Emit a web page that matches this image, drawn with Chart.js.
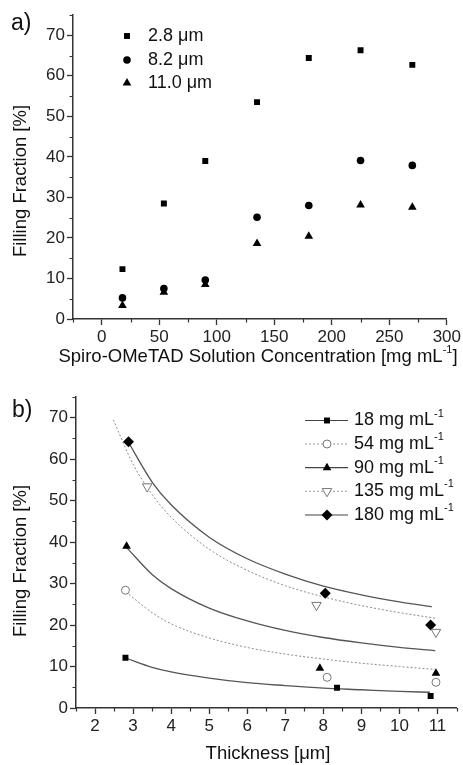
<!DOCTYPE html>
<html>
<head>
<meta charset="utf-8">
<script src="https://cdn.jsdelivr.net/npm/chart.js@4.4.0/dist/chart.umd.min.js"></script>
<style>
  html, body { margin: 0; padding: 0; background: #fff; }
  #wrap { position: relative; width: 463px; height: 765px; }
  #topChart { position: absolute; left: 0; top: 0; }
  #bottomChart { position: absolute; left: 0; top: 375px; }
</style>
</head>
<body>
<div id="wrap">
  <canvas id="topChart" width="463" height="375"></canvas>
  <canvas id="bottomChart" width="463" height="390"></canvas>
</div>
<script>
// panel a) filling fraction vs solution concentration
const concentrations = [18, 54, 90, 135, 180, 225, 270];
const fill28 = [12.3, 28.5, 39.0, 53.5, 64.4, 66.3, 62.7];
const fill82 = [5.2, 7.5, 9.6, 25.1, 28.0, 39.1, 37.9];
const fill110 = [3.3, 6.6, 8.5, 18.6, 20.4, 28.1, 27.6];
const labelsA = ["2.8 μm", "8.2 μm", "11.0 μm"];
const xTicksA = [0, 50, 100, 150, 200, 250, 300];
const xMinorA = [-25, 25, 75, 125, 175, 225, 275];
const yTicksA = [0, 10, 20, 30, 40, 50, 60, 70];
const yMinorA = [5, 15, 25, 35, 45, 55, 65, 75];

// panel b) filling fraction vs thickness (measured points)
const thick18 = [2.8, 8.36, 10.82];
const ff18 = [12.1, 4.9, 2.9];
const thick54 = [2.8, 8.1, 10.96];
const ff54 = [28.4, 7.4, 6.2];
const thick90 = [2.83, 7.91, 10.96];
const ff90 = [39.0, 9.6, 8.4];
const thick135 = [3.37, 7.82, 10.96];
const ff135 = [53.4, 24.8, 18.3];
const thick180 = [2.88, 8.05, 10.82];
const ff180 = [64.2, 27.7, 20.0];

// fit curves
const fitX18 = [2.82, 3.5, 4, 5, 6, 7, 8, 9, 10, 10.8];
const fitY18 = [12, 9.8, 8.7, 7.2, 6.1, 5.4, 4.8, 4.4, 4.0, 3.8];
const fitX54 = [2.81, 3.5, 4, 5, 6, 7, 8, 9, 10, 10.94];
const fitY54 = [28, 23, 20.3, 16.9, 14.6, 13, 11.8, 10.8, 10, 9.3];
const fitX90 = [2.82, 3.5, 4, 5, 6, 7, 8, 9, 10, 10.94];
const fitY90 = [38.8, 32.2, 28.8, 24.1, 21, 18.7, 17, 15.7, 14.6, 13.8];
const fitX135 = [2.48, 3, 3.5, 4, 5, 6, 7, 8, 9, 10, 10.98];
const fitY135 = [69.5, 58.8, 51.5, 46, 38.3, 33.2, 29.5, 26.8, 24.7, 23, 21.6];
const fitX180 = [2.87, 3.5, 4, 5, 6, 7, 8, 9, 10, 10.85];
const fitY180 = [64.2, 54.5, 49, 41.2, 36, 32.3, 29.4, 27.3, 25.6, 24.4];

const labelsB = ["18", "54", "90", "135", "180"];
const xTicksB = [2, 3, 4, 5, 6, 7, 8, 9, 10, 11];
const xMinorB = [1.5, 2.5, 3.5, 4.5, 5.5, 6.5, 7.5, 8.5, 9.5, 10.5, 11.5];
const yTicksB = [0, 10, 20, 30, 40, 50, 60, 70];
const yMinorB = [5, 15, 25, 35, 45, 55, 65, 75];

const FONT = '"Liberation Sans", Arial, sans-serif';
const AXIS = "#333";

const toXY = (xs, ys) => xs.map((x, i) => ({ x: x, y: ys[i] }));

// draw text with optional superscript parts
function drawRich(ctx, parts, x, y, size, align) {
  const supSize = Math.round(size * 0.62);
  let total = 0;
  parts.forEach((p) => {
    ctx.font = (p.sup ? supSize : size) + "px " + FONT;
    p.w = ctx.measureText(p.t).width;
    total += p.w;
  });
  let cx = align === "center" ? x - total / 2 : x;
  ctx.textAlign = "left";
  ctx.textBaseline = "middle";
  parts.forEach((p) => {
    ctx.font = (p.sup ? supSize : size) + "px " + FONT;
    ctx.fillText(p.t, cx, p.sup ? y - size * 0.38 : y);
    cx += p.w;
  });
}

function drawMarker(ctx, style, x, y, r, fill, stroke) {
  ctx.save();
  ctx.beginPath();
  if (style === "rect") {
    const s = r * Math.SQRT1_2;
    ctx.rect(x - s, y - s, 2 * s, 2 * s);
  } else if (style === "circle") {
    ctx.arc(x, y, r, 0, Math.PI * 2);
  } else if (style === "triangle" || style === "triangleDown") {
    const d = style === "triangle" ? 1 : -1;
    ctx.moveTo(x, y - d * r);
    ctx.lineTo(x + r * 0.866, y + d * r / 2);
    ctx.lineTo(x - r * 0.866, y + d * r / 2);
    ctx.closePath();
  } else if (style === "rectRot") {
    ctx.moveTo(x, y - r);
    ctx.lineTo(x + r, y);
    ctx.lineTo(x, y + r);
    ctx.lineTo(x - r, y);
    ctx.closePath();
  }
  ctx.fillStyle = fill;
  ctx.fill();
  if (stroke) {
    ctx.strokeStyle = stroke;
    ctx.lineWidth = 1;
    ctx.stroke();
  }
  ctx.restore();
}

function minorTicks(chart, xs, ys) {
  const ctx = chart.ctx;
  const area = chart.chartArea;
  const sx = chart.scales.x;
  const sy = chart.scales.y;
  ctx.save();
  ctx.strokeStyle = AXIS;
  ctx.lineWidth = 1.2;
  ctx.beginPath();
  xs.forEach((v) => {
    const px = Math.round(sx.getPixelForValue(v)) + 0.5;
    ctx.moveTo(px, area.bottom);
    ctx.lineTo(px, area.bottom + 3.5);
  });
  ys.forEach((v) => {
    const py = Math.round(sy.getPixelForValue(v)) + 0.5;
    ctx.moveTo(area.left, py);
    ctx.lineTo(area.left - 3.5, py);
  });
  ctx.stroke();
  ctx.restore();
}

function axisOptions(ticks, min, max, size) {
  return {
    type: "linear",
    min: min,
    max: max,
    afterBuildTicks: (scale) => {
      scale.ticks = ticks.map((v) => ({ value: v }));
    },
    afterFit: size,
    border: { display: true, color: AXIS, width: 1.5 },
    grid: {
      drawOnChartArea: false,
      drawTicks: true,
      tickLength: 6,
      tickColor: AXIS,
      tickWidth: 1.3,
    },
    ticks: {
      font: { family: FONT, size: 17 },
      color: "#222",
      padding: 2,
    },
  };
}

// ---------- panel a ----------
const decorA = {
  id: "decorA",
  afterDraw(chart) {
    const ctx = chart.ctx;
    minorTicks(chart, xMinorA, yMinorA);
    ctx.save();
    ctx.fillStyle = "#111";
    // panel label
    ctx.font = "23px " + FONT;
    ctx.textAlign = "left";
    ctx.textBaseline = "middle";
    ctx.fillText("a)", 11, 24);
    // y title
    ctx.save();
    ctx.translate(21, 181);
    ctx.rotate(-Math.PI / 2);
    ctx.font = "18.5px " + FONT;
    ctx.textAlign = "center";
    ctx.fillText("Filling Fraction [%]", 0, 0);
    ctx.restore();
    // x title
    drawRich(ctx, [
      { t: "Spiro-OMeTAD Solution Concentration [mg mL" },
      { t: "-1", sup: true },
      { t: "]" },
    ], 258, 357, 18.5, "center");
    // legend
    const styles = ["rect", "circle", "triangle"];
    const radii = [4.2, 3.8, 5];
    const rows = [36, 60, 83];
    labelsA.forEach((lab, i) => {
      drawMarker(ctx, styles[i], 127, rows[i], radii[i], "#000");
      ctx.fillStyle = "#111";
      ctx.font = "18px " + FONT;
      ctx.textAlign = "left";
      ctx.textBaseline = "middle";
      ctx.fillText(lab, 148, rows[i]);
    });
    ctx.restore();
  },
};

new Chart(document.getElementById("topChart"), {
  type: "scatter",
  data: {
    datasets: [
      {
        label: labelsA[0],
        data: toXY(concentrations, fill28),
        pointStyle: "rect",
        pointRadius: 4.2,
        backgroundColor: "#000",
        borderWidth: 0,
      },
      {
        label: labelsA[1],
        data: toXY(concentrations, fill82),
        pointStyle: "circle",
        pointRadius: 3.8,
        backgroundColor: "#000",
        borderWidth: 0,
      },
      {
        label: labelsA[2],
        data: toXY(concentrations, fill110),
        pointStyle: "triangle",
        pointRadius: 5,
        backgroundColor: "#000",
        borderWidth: 0,
      },
    ],
  },
  options: {
    responsive: false,
    animation: false,
    layout: { padding: { left: 0, top: 15, right: 15, bottom: 0 } },
    plugins: { legend: { display: false }, tooltip: { enabled: false } },
    scales: {
      x: axisOptions(xTicksA, -25, 300, (s) => { s.height = 56; }),
      y: axisOptions(yTicksA, 0, 75, (s) => { s.width = 73; }),
    },
  },
  plugins: [decorA],
});

// ---------- panel b ----------
const decorB = {
  id: "decorB",
  afterDraw(chart) {
    const ctx = chart.ctx;
    minorTicks(chart, xMinorB, yMinorB);
    ctx.save();
    ctx.fillStyle = "#111";
    ctx.font = "23px " + FONT;
    ctx.textAlign = "left";
    ctx.textBaseline = "middle";
    ctx.fillText("b)", 12, 36);
    ctx.save();
    ctx.translate(21, 186);
    ctx.rotate(-Math.PI / 2);
    ctx.font = "18.5px " + FONT;
    ctx.textAlign = "center";
    ctx.fillText("Filling Fraction [%]", 0, 0);
    ctx.restore();
    ctx.fillStyle = "#111";
    ctx.font = "18.5px " + FONT;
    ctx.textAlign = "center";
    ctx.fillText("Thickness [μm]", 268, 379);
    // legend
    const styles = ["rect", "circle", "triangle", "triangleDown", "rectRot"];
    const radii = [4.2, 4, 5, 5.5, 5.5];
    const fills = ["#000", "#fff", "#000", "#fff", "#000"];
    const strokes = [null, "#777", null, "#777", null];
    const dotted = [false, true, false, true, false];
    const rows = [45.5, 69, 92.7, 116.3, 140];
    labelsB.forEach((lab, i) => {
      ctx.save();
      ctx.beginPath();
      ctx.strokeStyle = dotted[i] ? "#999" : "#444";
      ctx.lineWidth = dotted[i] ? 1 : 1.2;
      ctx.setLineDash(dotted[i] ? [2, 2] : []);
      ctx.moveTo(305, rows[i]);
      ctx.lineTo(348, rows[i]);
      ctx.stroke();
      ctx.restore();
      drawMarker(ctx, styles[i], 327, rows[i], radii[i], fills[i], strokes[i]);
      ctx.fillStyle = "#111";
      drawRich(ctx, [
        { t: lab + " mg mL" },
        { t: "-1", sup: true },
      ], 354, rows[i], 18, "left");
    });
    ctx.restore();
  },
};

function markerSet(label, xs, ys, style, radius, fill, stroke, rotation) {
  return {
    label: label,
    data: toXY(xs, ys),
    pointStyle: style,
    pointRadius: radius,
    pointRotation: rotation || 0,
    backgroundColor: fill,
    borderColor: stroke || fill,
    borderWidth: stroke ? 1 : 0,
    showLine: false,
    order: 0,
  };
}

function fitSet(xs, ys, dotted) {
  return {
    data: toXY(xs, ys),
    showLine: true,
    pointRadius: 0,
    borderColor: dotted ? "#8a8a8a" : "#555",
    borderWidth: dotted ? 1 : 1.3,
    borderDash: dotted ? [2, 2] : [],
    cubicInterpolationMode: "monotone",
    order: 1,
  };
}

new Chart(document.getElementById("bottomChart"), {
  type: "scatter",
  data: {
    datasets: [
      markerSet(labelsB[0], thick18, ff18, "rect", 4.2, "#000"),
      markerSet(labelsB[1], thick54, ff54, "circle", 4, "#fff", "#777"),
      markerSet(labelsB[2], thick90, ff90, "triangle", 5, "#000"),
      markerSet(labelsB[3], thick135, ff135, "triangle", 5.5, "#fff", "#777", 180),
      markerSet(labelsB[4], thick180, ff180, "rectRot", 5.5, "#000"),
      fitSet(fitX18, fitY18, false),
      fitSet(fitX54, fitY54, true),
      fitSet(fitX90, fitY90, false),
      fitSet(fitX135, fitY135, true),
      fitSet(fitX180, fitY180, false),
    ],
  },
  options: {
    responsive: false,
    animation: false,
    layout: { padding: { left: 0, top: 22, right: 3, bottom: 0 } },
    plugins: { legend: { display: false }, tooltip: { enabled: false } },
    scales: {
      x: axisOptions(xTicksB, 1.5, 11.5, (s) => { s.height = 57; }),
      y: axisOptions(yTicksB, 0, 75, (s) => { s.width = 76; }),
    },
  },
  plugins: [decorB],
});
</script>
</body>
</html>
